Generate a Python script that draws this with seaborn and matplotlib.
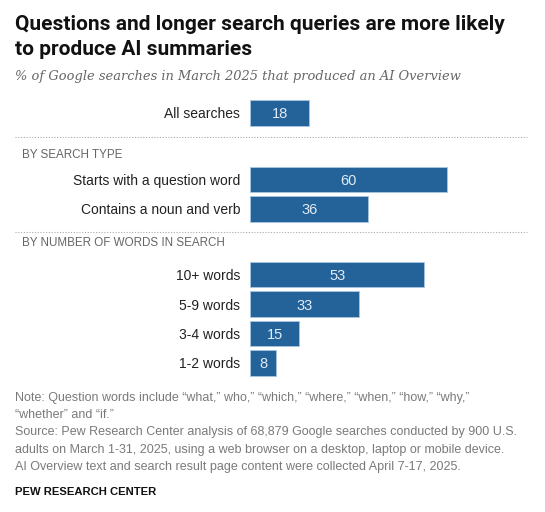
import matplotlib
matplotlib.use("Agg")
import matplotlib.pyplot as plt
import seaborn as sns
import pandas as pd

# ---- data ----
all_labels = ["All searches"]
all_values = [18]
type_labels = ["Starts with a question word", "Contains a noun and verb"]
type_values = [60, 36]
words_labels = ["10+ words", "5-9 words", "3-4 words", "1-2 words"]
words_values = [53, 33, 15, 8]

title_lines = ["Questions and longer search queries are more likely",
               "to produce AI summaries"]
subtitle = "% of Google searches in March 2025 that produced an AI Overview"
section1 = "BY SEARCH TYPE"
section2 = "BY NUMBER OF WORDS IN SEARCH"
note_lines = [
    "Note: Question words include \u201cwhat,\u201d who,\u201d \u201cwhich,\u201d \u201cwhere,\u201d \u201cwhen,\u201d \u201chow,\u201d \u201cwhy,\u201d",
    "\u201cwhether\u201d and \u201cif.\u201d",
    "Source: Pew Research Center analysis of 68,879 Google searches conducted by 900 U.S.",
    "adults on March 1-31, 2025, using a web browser on a desktop, laptop or mobile device.",
    "AI Overview text and search result page content were collected April 7-17, 2025.",
]
credit = "PEW RESEARCH CENTER"

sns.set_theme(style="white")
plt.rcParams["font.family"] = ["Liberation Sans", "DejaVu Sans"]

W, H = 545, 512
fig = plt.figure(figsize=(W / 100, H / 100), dpi=100)
fig.patch.set_facecolor("white")

BLUE = "#24639a"
PX_PER_UNIT = 3.29
BAR_LEFT = 250
AX_W = 290
PITCH = 29.5


def fy(y):
    return 1 - y / H


def fx(x):
    return x / W


def section(labels, values, first_center):
    n = len(labels)
    top = first_center - PITCH / 2
    h = n * PITCH
    ax = fig.add_axes([fx(BAR_LEFT), fy(top + h), AX_W / W, h / H])
    df = pd.DataFrame({"label": labels, "value": values})
    sns.barplot(data=df, x="value", y="label", ax=ax, color=BLUE, saturation=1,
                width=0.88, edgecolor="#a9c6e0", linewidth=0.6, orient="h")
    ax.set_xlim(0, AX_W / PX_PER_UNIT)
    ax.set_ylim(n - 0.5, -0.5)
    for s in ax.spines.values():
        s.set_visible(False)
    ax.set_xticks([])
    ax.set_xlabel("")
    ax.set_ylabel("")
    ax.tick_params(axis="y", length=0, pad=7, labelsize=10, labelcolor="#222222")
    ax.patch.set_alpha(0)
    texts = ax.bar_label(ax.containers[0], label_type="center", color="#e2ebf4",
                         fontsize=10.5)
    for t in texts:
        t.set_va("center_baseline")
    return ax


section(all_labels, all_values, 113)
section(type_labels, type_values, 179.5)
section(words_labels, words_values, 274.5)

# title & subtitle
for i, line in enumerate(title_lines):
    fig.text(fx(15), fy(30.5 + i * 24.3), line, ha="left", va="baseline", fontsize=15,
             fontweight="bold", color="#111111", family=["Roboto", "DejaVu Sans"])
fig.text(fx(15), fy(80), subtitle, ha="left", va="baseline", fontsize=9.4, style="italic",
         color="#666666", family=["DejaVu Serif"])

# dotted separators
for yy in (137, 232):
    fig.add_artist(plt.Line2D([fx(15), fx(527)], [fy(yy), fy(yy)], color="#aaaaaa",
                              linestyle=(0, (1, 1.5)), linewidth=0.8))

fig.text(fx(22), fy(155), section1, ha="left", va="center", fontsize=8.4, color="#666666")
fig.text(fx(22), fy(243), section2, ha="left", va="center", fontsize=8.4, color="#666666")

for i, line in enumerate(note_lines):
    fig.text(fx(15), fy(398 + i * 17.2), line, ha="left", va="center", fontsize=9.0,
             color="#7a7a7a")

fig.text(fx(15), fy(492), credit, ha="left", va="center", fontsize=8.1, fontweight="bold",
         color="#111111")

fig.savefig("out.png", dpi=100, facecolor="white")
